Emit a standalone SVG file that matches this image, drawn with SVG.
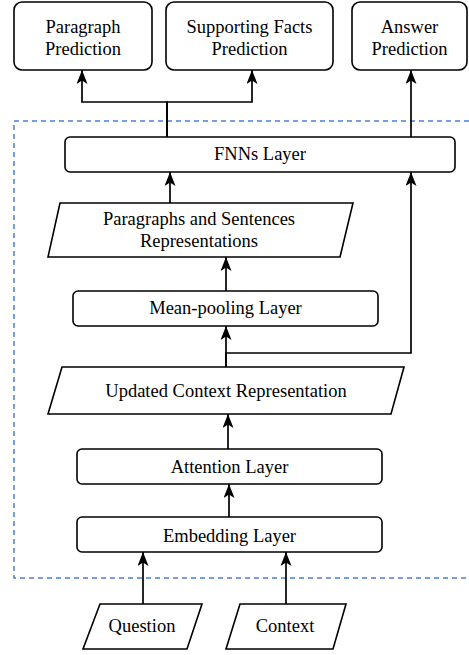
<svg xmlns="http://www.w3.org/2000/svg" width="469" height="655" viewBox="0 0 469 655">
  <style>
    .box { fill: #ffffff; stroke: #000000; stroke-width: 1.6; }
    .label { font-family: "Liberation Serif", "Times New Roman", serif; font-size: 18.5px; fill: #000000; text-anchor: middle; }
    .edge { fill: none; stroke: #000000; stroke-width: 1.7; marker-end: url(#arrow); }
    .frame { fill: none; stroke: #4a7fd8; stroke-width: 1.5; stroke-dasharray: 5 4; }
  </style>
  <defs>
    <marker id="arrow" viewBox="0 0 14 11" refX="14" refY="5.5" markerWidth="14" markerHeight="11" markerUnits="userSpaceOnUse" orient="auto">
      <path d="M0,0 L14,5.5 L0,11 L3.5,5.5 Z" fill="#000000"/>
    </marker>
  </defs>

  <rect x="0" y="0" width="469" height="655" fill="#ffffff"/>

  <!-- model boundary -->
  <rect id="model-frame" class="frame" x="14" y="121" width="470" height="457"/>

  <!-- output heads -->
  <g id="paragraph-prediction">
    <rect class="box" x="14" y="2" width="138" height="68" rx="8"/>
    <text class="label" x="83" y="33">Paragraph</text>
    <text class="label" x="83" y="55">Prediction</text>
  </g>
  <g id="supporting-facts-prediction">
    <rect class="box" x="166" y="2" width="167" height="68" rx="8"/>
    <text class="label" x="249.5" y="33">Supporting Facts</text>
    <text class="label" x="249.5" y="55">Prediction</text>
  </g>
  <g id="answer-prediction">
    <rect class="box" x="352" y="2" width="115" height="68" rx="8"/>
    <text class="label" x="409.5" y="33">Answer</text>
    <text class="label" x="409.5" y="55">Prediction</text>
  </g>

  <!-- layers -->
  <g id="fnns-layer">
    <rect class="box" x="65" y="137" width="390" height="35" rx="5"/>
    <text class="label" x="260" y="160">FNNs Layer</text>
  </g>
  <g id="para-sent-repr">
    <polygon class="box" points="60,203 353,203 340,257 48,257"/>
    <text class="label" x="199" y="225">Paragraphs and Sentences</text>
    <text class="label" x="199" y="247">Representations</text>
  </g>
  <g id="mean-pooling-layer">
    <rect class="box" x="73" y="291" width="305" height="35" rx="5"/>
    <text class="label" x="225.5" y="314">Mean-pooling Layer</text>
  </g>
  <g id="updated-context-repr">
    <polygon class="box" points="62,367 404,367 391,414 48,414"/>
    <text class="label" x="226" y="397">Updated Context Representation</text>
  </g>
  <g id="attention-layer">
    <rect class="box" x="77" y="449" width="305" height="35" rx="5"/>
    <text class="label" x="229.5" y="473">Attention Layer</text>
  </g>
  <g id="embedding-layer">
    <rect class="box" x="77" y="517" width="305" height="35" rx="5"/>
    <text class="label" x="229.5" y="542">Embedding Layer</text>
  </g>

  <!-- inputs -->
  <g id="question">
    <polygon class="box" points="100,604 202,604 187,649 83,649"/>
    <text class="label" x="142" y="632">Question</text>
  </g>
  <g id="context">
    <polygon class="box" points="240,604 346,604 333,649 226,649"/>
    <text class="label" x="285" y="632">Context</text>
  </g>

  <!-- connectors -->
  <g id="connectors">
    <path class="edge" d="M167,137 V102 H82 V70"/>
    <path class="edge" d="M167,137 V102 H252 V70"/>
    <path class="edge" d="M411,137 V70"/>
    <path class="edge" d="M170,203 V172"/>
    <path class="edge" d="M226,291 V257"/>
    <path class="edge" d="M226,367 V326"/>
    <path class="edge" d="M226,367 V353 H411 V172"/>
    <path class="edge" d="M228,449 V414"/>
    <path class="edge" d="M229,517 V484"/>
    <path class="edge" d="M143,604 V552"/>
    <path class="edge" d="M286,604 V552"/>
  </g>
</svg>
